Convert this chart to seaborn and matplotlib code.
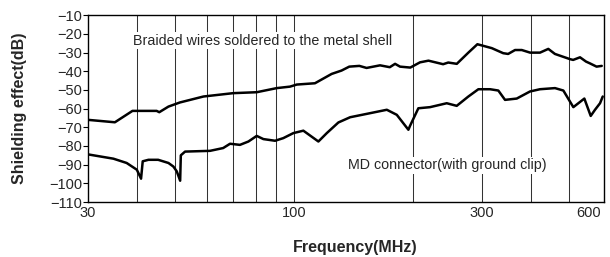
import matplotlib
matplotlib.use("Agg")
import matplotlib.pyplot as plt
import seaborn as sns
import pandas as pd

# Shielding effect curves
braided_freq = [30, 35.1, 38.9, 44.8, 45.5, 48, 51.3, 58.9, 70.1, 80.4,
                90.4, 97.7, 101.6, 113, 124.6, 132, 138.1, 146.5, 152.8, 165.3,
                175, 180.5, 185.8, 197.3, 208.8, 219.4, 239, 246.3, 258.9, 277,
                292, 317.7, 339.6, 349.5, 363.9, 378.5, 397.4, 421, 442, 459.4,
                502, 511, 532, 551, 563, 586, 604]
braided_db = [-66, -67.3, -61.2, -61.2, -61.9, -58.9, -56.7, -53.5, -51.7, -51.2,
              -49, -48.2, -47.1, -46.4, -41.4, -39.6, -37.5, -37.1, -38.2, -36.8,
              -37.8, -36, -37.5, -38, -35.2, -34.3, -36.2, -35.3, -36, -30,
              -25.5, -27.6, -30.3, -30.7, -28.6, -28.6, -30, -30, -28, -30.7,
              -33.5, -33.9, -32.5, -34.8, -35.7, -37.5, -37.1]

md_freq = [30, 34.8, 37.6, 39.9, 40.9, 41.3, 42.7, 45.2, 48, 49.4,
           50.4, 51.4, 51.6, 52.9, 61.2, 66.1, 68.8, 72.9, 76.6, 80.4,
           83.6, 89.5, 93.9, 99.6, 105.6, 115.3, 121.1, 129.6, 138.8, 152.9,
           172, 182.3, 195.1, 197, 206.8, 221.4, 244.1, 258.8, 277, 293.7,
           314.5, 330, 343.2, 367.5, 397.2, 421, 459.6, 482.6, 511.6, 545.6,
           566.3, 580.7, 598, 607.5]
md_db = [-84.5, -86.8, -89.1, -92.7, -97.5, -88.2, -87.4, -87.4, -89.1, -91,
         -93.6, -98.6, -85, -83, -82.6, -81.1, -78.8, -79.4, -77.6, -74.6,
         -76.3, -77.2, -75.8, -73.1, -71.8, -77.6, -73.1, -67.4, -64.6, -62.8,
         -60.6, -63.3, -71.3, -69.2, -59.8, -59.2, -57.1, -58.5, -53.5, -49.6,
         -49.6, -50.3, -55.3, -54.6, -50.8, -49.6, -49.0, -50.3, -59.2, -54.6,
         -63.9, -60.6, -57.1, -53.5]

grid_freqs = [40, 50, 60, 70, 80, 90, 100, 200, 300, 400, 500]
x_ticks = [30, 100, 300, 600]
y_ticks = list(range(-110, 0, 10))

df = pd.concat([
    pd.DataFrame({"freq": braided_freq, "db": braided_db, "series": "braided"}),
    pd.DataFrame({"freq": md_freq, "db": md_db, "series": "md"}),
])

sns.set_theme(style="ticks")
plt.rcParams["font.family"] = ["Liberation Sans", "DejaVu Sans"]

fig = plt.figure(figsize=(6.1, 2.57), dpi=100)
ax = fig.add_axes([0.1443, 0.214, 0.8454, 0.7265])

for f in grid_freqs:
    ax.axvline(f, color="#333333", lw=0.75, zorder=1)

sns.lineplot(data=df, x="freq", y="db", units="series", estimator=None,
             sort=False, color="black", lw=1.8, ax=ax, zorder=3)

ax.set_xscale("log")
ax.set_xlim(30, 611)
ax.set_ylim(-110, -10)
ax.set_xticks(x_ticks)
ax.set_xticklabels([str(t) for t in x_ticks])
ax.minorticks_off()
ax.set_yticks(y_ticks)
ax.set_yticklabels([f"\u2212{abs(t)}" for t in y_ticks])
ax.tick_params(axis="y", length=3.6, width=0.8, color="black", labelsize=10.5, pad=0.8)
ax.tick_params(axis="x", length=0, labelsize=10.5, pad=3)
ax.get_xticklabels()[-1].set_ha("right")
for s in ax.spines.values():
    s.set_color("black")
    s.set_linewidth(1.0)

ax.set_xlabel("Frequency(MHz)", fontsize=11.5, fontweight="bold")
ax.set_ylabel("Shielding effect(dB)", fontsize=11.5, fontweight="bold")
ax.xaxis.set_label_coords(0.518, -0.205)
ax.yaxis.set_label_coords(-0.118, 0.5)

ax.text(39, -23.7, "Braided wires soldered to the metal shell", fontsize=10.3,
        ha="left", va="center", zorder=2,
        bbox=dict(facecolor="white", edgecolor="none", pad=1))
ax.text(137.4, -90.4, "MD connector(with ground clip)", fontsize=10.3,
        ha="left", va="center", zorder=2,
        bbox=dict(facecolor="white", edgecolor="none", pad=1))

fig.savefig("out.png", dpi=100)
